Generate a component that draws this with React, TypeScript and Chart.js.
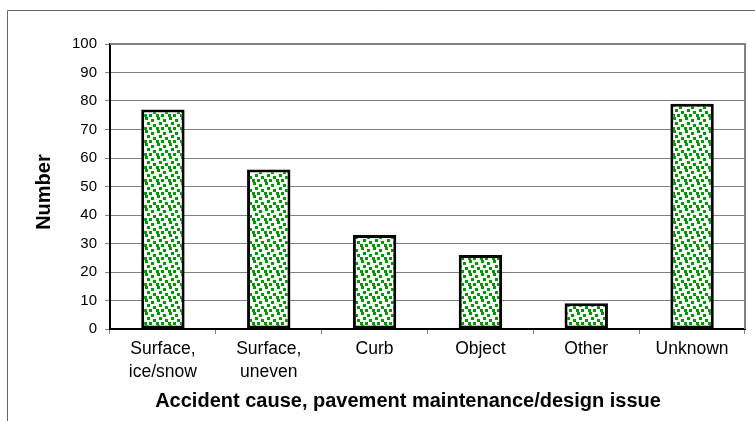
import React, { useEffect, useRef } from "react";
import { Chart, registerables } from "chart.js";

Chart.register(...registerables);

const categories: (string | string[])[] = [
  ["Surface,", "ice/snow"],
  ["Surface,", "uneven"],
  "Curb",
  "Object",
  "Other",
  "Unknown",
];
const counts: number[] = [77, 56, 33, 26, 9, 79];
const yMin = 0;
const yMax = 100;
const yStep = 10;
const yAxisTitle = "Number";
const xAxisTitle = "Accident cause, pavement maintenance/design issue";

const FONT = "'Liberation Sans', Arial, Helvetica, sans-serif";
const NBSP = "\u00a0";

const dotPositions: [number, number][] = [
  [1, 0], [7, 2], [3, 5], [9, 7], [5, 10], [0, 10],
];

function makePattern(ctx: CanvasRenderingContext2D): CanvasPattern | string {
  const tile = document.createElement("canvas");
  tile.width = 12;
  tile.height = 13;
  const t = tile.getContext("2d");
  if (!t) return "#009000";
  t.fillStyle = "#ffffff";
  t.fillRect(0, 0, 12, 13);
  t.fillStyle = "#009400";
  for (const [x, y] of dotPositions) t.fillRect(x, y, 3, 3);
  return ctx.createPattern(tile, "repeat") || "#009000";
}

const framePlugin = {
  id: "frame",
  beforeDraw(chart: any) {
    const ctx = chart.ctx;
    ctx.save();
    ctx.fillStyle = "#ffffff";
    ctx.fillRect(0, 0, chart.width, chart.height);
    ctx.strokeStyle = "#666666";
    ctx.lineWidth = 1;
    ctx.beginPath();
    ctx.moveTo(7.5, chart.height);
    ctx.lineTo(7.5, 10.5);
    ctx.lineTo(chart.width, 10.5);
    ctx.stroke();
    ctx.restore();
  },
  beforeDatasetsDraw(chart: any) {
    const { ctx, chartArea } = chart;
    ctx.save();
    ctx.strokeStyle = "#808080";
    ctx.lineWidth = 2;
    ctx.beginPath();
    ctx.moveTo(chartArea.left, chartArea.top);
    ctx.lineTo(chartArea.right, chartArea.top);
    ctx.lineTo(chartArea.right, chartArea.bottom);
    ctx.stroke();
    ctx.restore();
  },
};

export default function App() {
  const canvasRef = useRef<HTMLCanvasElement | null>(null);

  useEffect(() => {
    document.body.style.margin = "0";
    const canvas = canvasRef.current;
    if (!canvas) return;
    const ctx = canvas.getContext("2d");
    if (!ctx) return;
    const pattern = makePattern(ctx);

    const chart = new Chart(ctx, {
      type: "bar",
      data: {
        labels: categories,
        datasets: [
          {
            data: counts,
            backgroundColor: pattern as any,
            borderColor: "#000000",
            borderWidth: 3,
            borderSkipped: false,
            barPercentage: 0.41,
            categoryPercentage: 1,
          },
        ],
      },
      options: {
        responsive: false,
        animation: false,
        devicePixelRatio: 1,
        layout: { padding: { top: 44, right: 10, left: 0, bottom: 0 } },
        plugins: {
          legend: { display: false },
          tooltip: { enabled: false },
        },
        scales: {
          x: {
            afterFit: (s: any) => {
              s.height = 92;
            },
            grid: {
              display: true,
              drawOnChartArea: false,
              drawTicks: true,
              tickLength: 5,
              color: "#808080",
              lineWidth: 1,
              offset: true,
            },
            border: { display: true, color: "#000000", width: 2 },
            ticks: {
              color: "#000000",
              font: { family: FONT, size: 17.5, lineHeight: 1.3 },
              padding: 4,
              maxRotation: 0,
              autoSkip: false,
            },
            title: {
              display: true,
              text: xAxisTitle + NBSP.repeat(7),
              color: "#000000",
              font: { family: FONT, size: 20, weight: "bold" },
              padding: { top: 0, bottom: 8 },
            },
          },
          y: {
            min: yMin,
            max: yMax,
            afterFit: (s: any) => {
              s.width = 110;
            },
            ticks: {
              stepSize: yStep,
              color: "#000000",
              font: { family: FONT, size: 15 },
              padding: 8,
            },
            grid: { color: "#808080", lineWidth: 1, tickLength: 5 },
            border: { display: true, color: "#000000", width: 2 },
            title: {
              display: true,
              text: yAxisTitle + NBSP.repeat(2),
              color: "#000000",
              font: { family: FONT, size: 20, weight: "bold" },
              padding: { top: 32, bottom: 0 },
            },
          },
        },
      },
      plugins: [framePlugin],
    });

    return () => {
      chart.destroy();
    };
  }, []);

  return (
    <canvas
      ref={canvasRef}
      width={755}
      height={421}
      style={{ display: "block", width: "755px", height: "421px" }}
    />
  );
}
